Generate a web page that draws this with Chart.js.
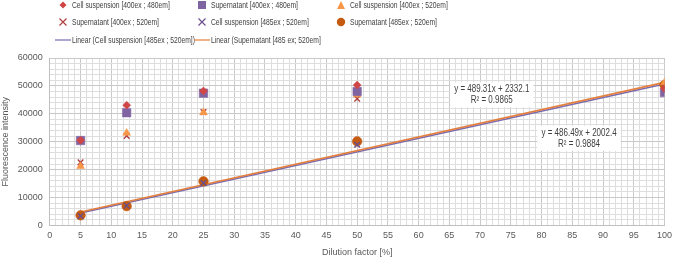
<!DOCTYPE html>
<html>
<head>
<meta charset="utf-8">
<script src="https://cdn.jsdelivr.net/npm/chart.js@4/dist/chart.umd.min.js"></script>
<style>
  html, body { margin: 0; padding: 0; background: #fff; }
  #wrap { position: relative; width: 677px; height: 258px; }
  #legend { position: absolute; left: 0; top: 0; width: 677px; height: 50px;
    font-family: "Liberation Sans", sans-serif; font-size: 9.5px; color: #404040; }
  .item { position: absolute; white-space: nowrap; line-height: 12px; }
  .item svg { position: absolute; top: 0; }
  .item span { position: absolute; top: 0; transform: scaleX(0.71); transform-origin: left center; }
</style>
</head>
<body>
<div id="wrap">
  <canvas id="chart" width="677" height="258"></canvas>
  <div id="legend"></div>
</div>
<script>
'use strict';

// data
var dilution = [5, 12.5, 25, 50, 100];
var cellSusp400ex480em = [30500, 43100, 48200, 50300, 49000];
var supern400ex480em = [30400, 40400, 47400, 48000, 47600];
var cellSusp400ex520em = [21200, 33100, 40500, 46800, 51200];
var supern400ex520em = [22600, 32100, 40600, 45400, 49500];
var cellSusp485ex520em = [3300, 7100, 15200, 28900, 48000];
var supern485ex520em = [3600, 6900, 15800, 30100, 50300];

// trend lines (cell suspension 485/520, supernatant 485/520)
var trendNames = ['Linear (Cell suspension [485ex ; 520em])', 'Linear (Supernatant [485 ex; 520em]'];
var trendSlopes = [486.49, 489.31];
var trendIntercepts = [2002.4, 2332.1];
var trendR2 = ['0.9884', '0.9865'];

var xTicks = [0, 100, 1];
var yTicks = [0, 60000, 2000];

var FONT = '"Liberation Sans", sans-serif';

var pts = function (ys) {
    return dilution.map(function (x, i) { return { x: x, y: ys[i] }; });
};

var trendPts = function (k) {
    var x0 = Math.min.apply(null, dilution), x1 = Math.max.apply(null, dilution);
    return [x0, x1].map(function (x) { return { x: x, y: trendSlopes[k] * x + trendIntercepts[k] }; });
};

var scatter = function (label, ys, style, color, radius) {
    return {
        type: 'scatter', label: label, data: pts(ys),
        pointStyle: style, pointRadius: radius,
        backgroundColor: color, borderColor: color,
        pointBorderWidth: style === 'crossRot' ? 1.4 : 0.5,
        order: 1
    };
};

var datasets = [
    { type: 'line', label: trendNames[0], data: trendPts(0), borderColor: '#7a6bb0', borderWidth: 1.6,
      pointRadius: 0, fill: false, order: 3 },
    { type: 'line', label: trendNames[1], data: trendPts(1), borderColor: '#e5813f', borderWidth: 1.6,
      pointRadius: 0, fill: false, order: 2 },
    scatter('Cell suspension [400ex ; 480em]', cellSusp400ex480em, 'rectRot', '#d04545', 4),
    scatter('Supernatant [400ex ; 480em]', supern400ex480em, 'rect', '#8064a2', 6),
    scatter('Cell suspension [400ex ; 520em]', cellSusp400ex520em, 'triangle', '#f79646', 4.5),
    scatter('Supernatant [400ex ; 520em]', supern400ex520em, 'crossRot', '#b04040', 4),
    scatter('Cell suspension [485ex ; 520em]', cellSusp485ex520em, 'crossRot', '#6a4f8c', 4),
    scatter('Supernatant [485ex ; 520em]', supern485ex520em, 'circle', '#c55a11', 4.8)
];

// html legend laid out as the 3 column grid
var legendCells = [
    [2, 63, 5], [3, 202, 5], [4, 341, 5],
    [5, 63, 22], [6, 202, 22], [7, 341, 22]
];
var markerSvg = function (ds) {
    var c = ds.backgroundColor;
    switch (ds.pointStyle) {
        case 'rectRot': return '<polygon points="5,1.5 8.5,5 5,8.5 1.5,5" fill="' + c + '"/>';
        case 'rect': return '<rect x="1" y="1" width="8" height="8" fill="' + c + '"/>';
        case 'triangle': return '<polygon points="5,1 9,9 1,9" fill="' + c + '"/>';
        case 'crossRot': return '<path d="M1.5,1.5L8.5,8.5M8.5,1.5L1.5,8.5" stroke="' + c + '" stroke-width="1.2"/>';
        default: return '<circle cx="5" cy="5" r="4.2" fill="' + c + '"/>';
    }
};
var legendHtml = '';
legendCells.forEach(function (cell) {
    var ds = datasets[cell[0]];
    legendHtml += '<div class="item" style="left:' + (cell[1] - 5) + 'px;top:' + (cell[2] - 6) + 'px">' +
        '<svg width="10" height="10" style="left:0;top:1px">' + markerSvg(ds) + '</svg>' +
        '<span style="left:14px">' + ds.label + '</span></div>';
});
[[0, 55], [1, 194]].forEach(function (cell) {
    var ds = datasets[cell[0]];
    legendHtml += '<div class="item" style="left:' + cell[1] + 'px;top:34px">' +
        '<svg width="16" height="10" style="left:0;top:1px"><line x1="0" y1="5" x2="16" y2="5" stroke="' +
        ds.borderColor + '" stroke-opacity="0.6" stroke-width="2"/></svg>' +
        '<span style="left:17px">' + ds.label + '</span></div>';
});
document.getElementById('legend').innerHTML = legendHtml;

// equation boxes
var eqBoxes = [[1, 71.9, 47000], [0, 86.1, 31400]];
var eqPlugin = {
    id: 'eqPlugin',
    afterDatasetsDraw: function (chart) {
        var ctx = chart.ctx, xs = chart.scales.x, ys = chart.scales.y;
        var sx = 0.8;
        ctx.save();
        ctx.font = '10px ' + FONT;
        ctx.textAlign = 'center';
        ctx.textBaseline = 'middle';
        eqBoxes.forEach(function (b) {
            var k = b[0];
            var cx = xs.getPixelForValue(b[1]), cy = ys.getPixelForValue(b[2]);
            var l1 = 'y = ' + trendSlopes[k] + 'x + ' + trendIntercepts[k];
            var l2 = 'R\u00b2 = ' + trendR2[k];
            var w = ctx.measureText(l1).width * sx + 8;
            ctx.fillStyle = '#fff';
            ctx.fillRect(cx - w / 2, cy - 12, w, 25);
            ctx.fillStyle = '#404040';
            ctx.save();
            ctx.translate(cx, cy);
            ctx.scale(sx, 1);
            ctx.fillText(l1, 0, -5);
            ctx.fillText(l2, 0, 6);
            ctx.restore();
        });
        ctx.restore();
    }
};

var gridColor = function (ctx) {
    return ctx.tick && (ctx.tick.value % (ctx.scale.axis === 'x' ? 5 : 10000) === 0) ? '#c9c9c9' : '#dedede';
};

new Chart(document.getElementById('chart'), {
    data: { datasets: datasets },
    options: {
        responsive: false,
        animation: false,
        layout: { padding: { top: 58, right: 0, left: 0, bottom: 0 } },
        plugins: { legend: { display: false }, tooltip: { enabled: false } },
        scales: {
            x: {
                type: 'linear', min: xTicks[0], max: xTicks[1],
                border: { color: '#bfbfbf' },
                grid: { color: gridColor, drawTicks: false },
                ticks: {
                    stepSize: xTicks[2], autoSkip: false, maxTicksLimit: 200, maxRotation: 0,
                    padding: 5, color: '#595959',
                    font: { family: FONT, size: 9 },
                    callback: function (v) { return v % 5 === 0 ? v : ''; }
                },
                title: { display: true, text: 'Dilution factor [%]', color: '#595959', padding: { top: 1, bottom: 0 },
                    font: { family: FONT, size: 9 } }
            },
            y: {
                type: 'linear', min: yTicks[0], max: yTicks[1],
                border: { color: '#bfbfbf' },
                grid: { color: gridColor, drawTicks: false },
                ticks: {
                    stepSize: yTicks[2], autoSkip: false, maxTicksLimit: 100,
                    padding: 7, color: '#595959',
                    font: { family: FONT, size: 9 },
                    callback: function (v) { return v % 10000 === 0 ? v : ''; }
                },
                title: { display: true, text: 'Fluorescence intensity', color: '#595959', padding: { top: 0, bottom: 0 },
                    font: { family: FONT, size: 9 } }
            }
        }
    },
    plugins: [eqPlugin]
});
</script>
</body>
</html>
